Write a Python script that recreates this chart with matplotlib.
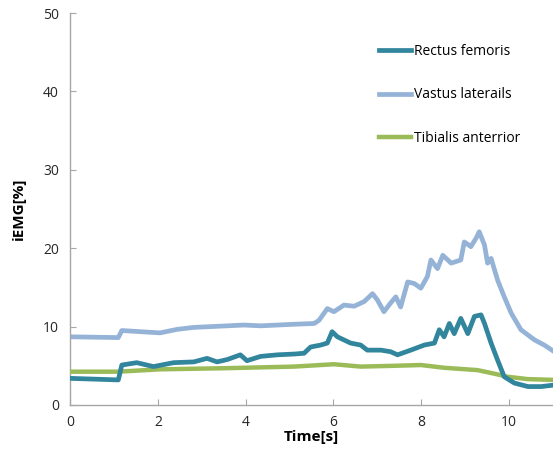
import matplotlib
matplotlib.use("Agg")
from matplotlib import pyplot as plt

plt.rcParams['font.family'] = ['Open Sans', 'DejaVu Sans']

# readings (time in s, iEMG in %)
rf_t = [0, 1.1, 1.18, 1.52, 1.9, 2.36, 2.82, 3.12, 3.35, 3.58, 3.88, 4.03, 4.34, 4.72,
        5.1, 5.33, 5.48, 5.71, 5.86, 5.97, 6.09, 6.24, 6.39, 6.62, 6.77, 7.08, 7.3,
        7.46, 7.76, 8.07, 8.3, 8.41, 8.52, 8.64, 8.75, 8.9, 9.06, 9.21, 9.36, 9.44,
        9.59, 9.74, 9.89, 10.12, 10.43, 10.73, 11.03]
rf_v = [3.4, 3.2, 5.1, 5.4, 4.9, 5.4, 5.5, 5.95, 5.5, 5.8, 6.4, 5.65, 6.2, 6.4,
        6.5, 6.6, 7.4, 7.65, 7.9, 9.35, 8.7, 8.3, 7.9, 7.65, 7.0, 7.0, 6.8,
        6.4, 7.0, 7.65, 7.9, 9.6, 8.7, 10.4, 9.1, 11.05, 9.1, 11.3, 11.5, 10.4,
        7.9, 5.7, 3.6, 2.8, 2.35, 2.35, 2.55]

vl_t = [0, 1.1, 1.18, 2.05, 2.44, 2.82, 3.2, 3.96, 4.34, 5.1, 5.56, 5.67, 5.86, 6.01,
        6.24, 6.47, 6.7, 6.89, 7.0, 7.15, 7.3, 7.42, 7.53, 7.69, 7.84, 7.99, 8.14,
        8.22, 8.37, 8.49, 8.68, 8.9, 8.98, 9.13, 9.25, 9.32, 9.44, 9.51, 9.59, 9.74,
        9.89, 10.05, 10.27, 10.58, 10.8, 11.03]
vl_v = [8.7, 8.6, 9.5, 9.2, 9.65, 9.9, 10.0, 10.2, 10.1, 10.3, 10.4, 10.8, 12.3, 11.9,
        12.75, 12.6, 13.2, 14.2, 13.4, 11.9, 13.0, 13.8, 12.5, 15.7, 15.5, 14.9, 16.4,
        18.5, 17.4, 19.1, 18.1, 18.5, 20.8, 20.2, 21.3, 22.1, 20.4, 18.1, 18.7, 15.9,
        13.8, 11.7, 9.6, 8.3, 7.65, 6.8]

ta_t = [0, 1.1, 2.05, 3.58, 5.1, 6.01, 6.62, 7.38, 7.99, 8.52, 9.28, 9.66, 9.97,
        10.43, 11.03]
ta_v = [4.25, 4.25, 4.55, 4.7, 4.9, 5.2, 4.9, 5.0, 5.1, 4.75, 4.45, 4.0, 3.6,
        3.3, 3.2]

labels = ['Rectus femoris', 'Vastus laterails', 'Tibialis anterrior']
colors = ['#31859c', '#95b3d7', '#9bbb59']

fig = plt.figure(figsize=(5.53, 4.51), dpi=100)
ax = fig.add_axes([0.1266, 0.102, 0.8734, 0.869])

ax.plot(vl_t, vl_v, color=colors[1], lw=3.4, label=labels[1], zorder=2)
ax.plot(ta_t, ta_v, color=colors[2], lw=3.2, label=labels[2], zorder=3)
ax.plot(rf_t, rf_v, color=colors[0], lw=3.4, label=labels[0], zorder=4)

ax.set_xlim(0, 11)
ax.set_ylim(0, 50)
ax.set_xticks([0, 2, 4, 6, 8, 10])
ax.set_yticks([0, 10, 20, 30, 40, 50])
for s in ['top', 'right']:
    ax.spines[s].set_visible(False)
for s in ['left', 'bottom']:
    ax.spines[s].set_color('#a6a6a6')
    ax.spines[s].set_linewidth(1.0)
ax.tick_params(direction='in', length=4, color='#a6a6a6', labelsize=10,
               labelcolor='#262626')
ax.tick_params(axis='x', pad=7)
ax.tick_params(axis='y', pad=8)

ax.set_xlabel('Time[s]', fontsize=11, fontweight='bold', labelpad=0)
ax.set_ylabel('iEMG[%]', fontsize=11, fontweight='bold', labelpad=12)

h, l = ax.get_legend_handles_labels()
order = [2, 0, 1]
ax.legend([h[i] for i in order], [l[i] for i in order],
          loc='upper left', bbox_to_anchor=(0.675, 0.915),
          bbox_transform=fig.transFigure, frameon=False, fontsize=10,
          handlelength=2.3, handletextpad=0.2, labelspacing=2.05,
          borderaxespad=0)

fig.savefig('out.png', dpi=100)
